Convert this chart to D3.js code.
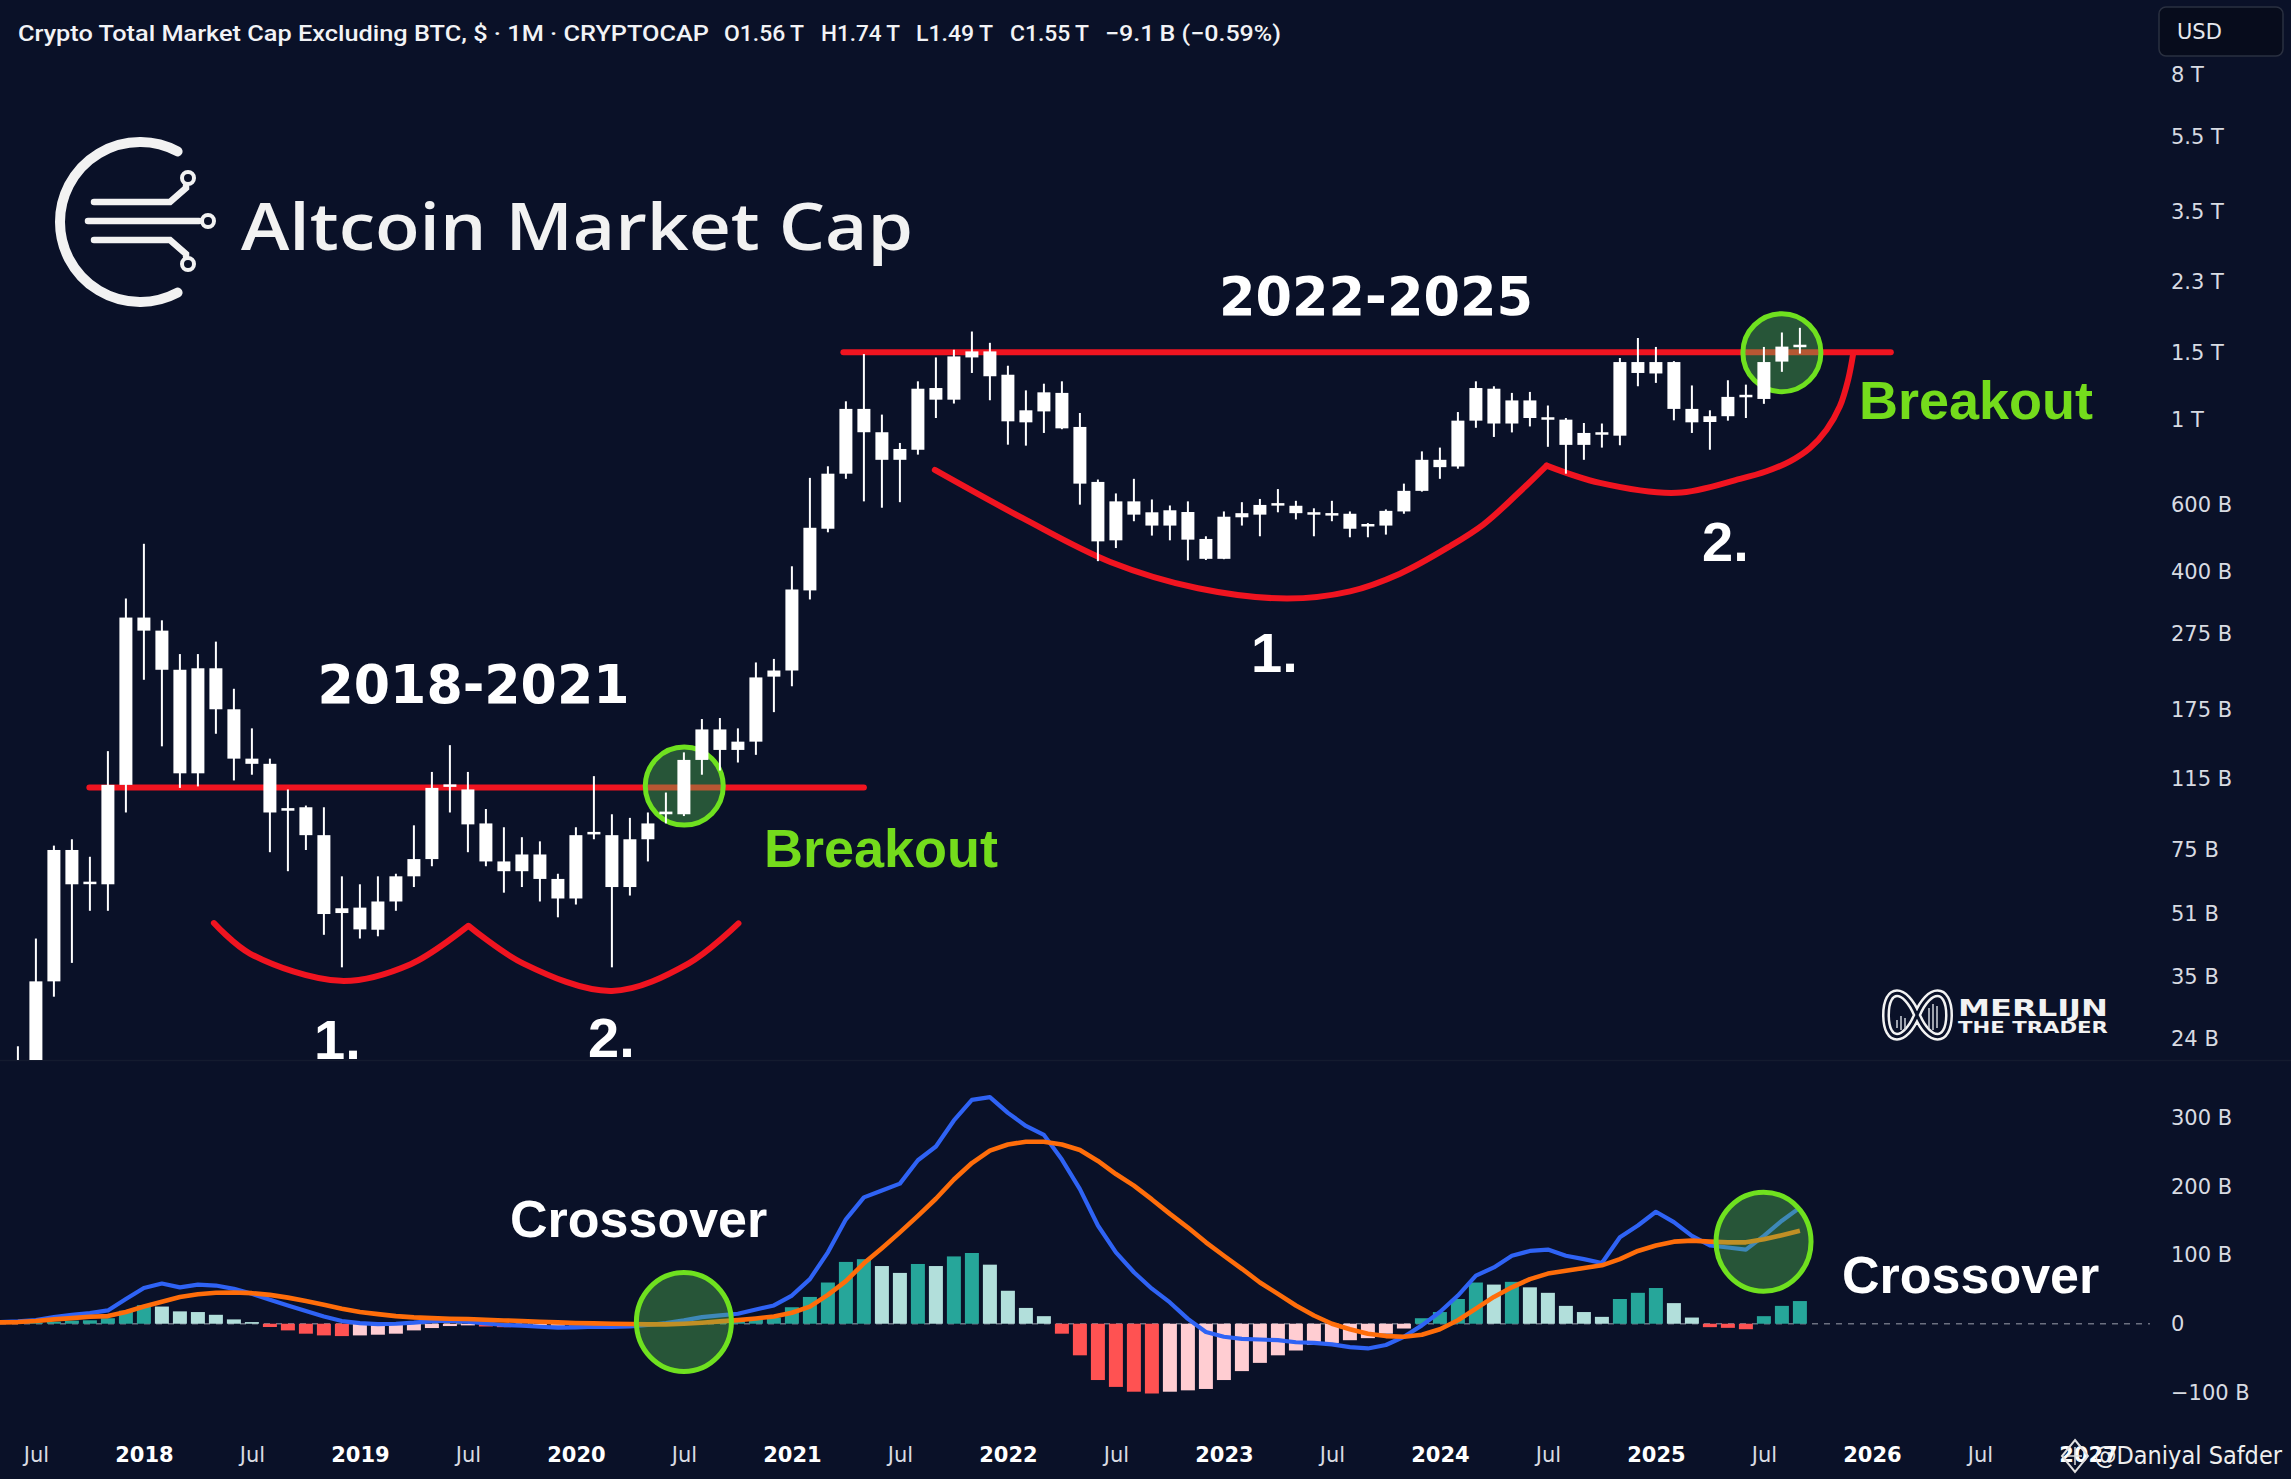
<!DOCTYPE html>
<html><head><meta charset="utf-8">
<script src="https://cdn.jsdelivr.net/npm/d3@7"></script>
<style>html,body{margin:0;padding:0;background:#0a1128;overflow:hidden}</style>
</head><body>
<svg id="chart" width="2291" height="1479"></svg>
<script>
// ---------------- DATA ----------------
const months = [
"2017-05","2017-06","2017-07","2017-08","2017-09","2017-10","2017-11","2017-12",
"2018-01","2018-02","2018-03","2018-04","2018-05","2018-06","2018-07","2018-08","2018-09","2018-10","2018-11","2018-12",
"2019-01","2019-02","2019-03","2019-04","2019-05","2019-06","2019-07","2019-08","2019-09","2019-10","2019-11","2019-12",
"2020-01","2020-02","2020-03","2020-04","2020-05","2020-06","2020-07","2020-08","2020-09","2020-10","2020-11","2020-12",
"2021-01","2021-02","2021-03","2021-04","2021-05","2021-06","2021-07","2021-08","2021-09","2021-10","2021-11","2021-12",
"2022-01","2022-02","2022-03","2022-04","2022-05","2022-06","2022-07","2022-08","2022-09","2022-10","2022-11","2022-12",
"2023-01","2023-02","2023-03","2023-04","2023-05","2023-06","2023-07","2023-08","2023-09","2023-10","2023-11","2023-12",
"2024-01","2024-02","2024-03","2024-04","2024-05","2024-06","2024-07","2024-08","2024-09","2024-10","2024-11","2024-12",
"2025-01","2025-02","2025-03","2025-04","2025-05","2025-06","2025-07","2025-08","2025-09"];

// monthly candles, billions USD
const open = [null,16,20,34,75,61,61,111,
304,281,222,119,224,175,130,126,95,97,82,51.3,
53,46.4,55,64,71,109,108,88,70,66,73,63,
56,83,82,60,80,93,93,129,155,137,144,213,
221,358,519,723,1068,928,786,835,1211,1129,1456,1510,
1312,985,1052,1176,958,688,484,612,573,529,574,488,
433,556,565,599,596,569,564,568,528,529,576,652,
786,755,995,1206,978,1124,1008,1001,860,921,909,1416,
1322,1416,1068,987,1022,1150,1134,1420,1560];
const high = [null,23,44,77,80,72,136,341,
474,299,244,244,263,198,156,130,108,98,97,64,
61,64,65,87,120,141,120,96,86,81,79,65,
86,117,93,91,94,106,135,165,166,156,232,237,
414,705,756,1118,1486,1032,870,1261,1456,1525,1702,1590,
1385,1194,1243,1261,1042,698,642,701,619,597,612,496,
576,609,621,659,614,587,614,576,537,583,681,827,
846,1048,1261,1224,1176,1183,1090,1011,981,978,1451,1637,
1551,1424,1230,1059,1269,1236,1551,1692,1740];
const low = [null,14,17,31,38,52,52,94,
209,140,109,110,151,114,118,74,66,75,45,37,
44,44.6,52,60,68,94,74,68,58,60,55,50,
54,80,37,57,70,88,92,118,121,127,133,172,
201,339,508,701,612,589,609,811,1011,1103,1326,1125,
861,856,924,945,600,427,462,543,498,484,429,430,
432,529,496,573,549,496,543,493,493,501,568,649,
701,745,953,902,927,961,850,723,786,846,858,1224,
1249,997,924,835,995,1011,1101,1335,1490];
const close = [null,20,34,75,61,61.5,111,304,
281,222,119,224,175,130,126,94,96.5,82,51,52.8,
46.5,55,64,71,109,110.5,87.5,70,66,73,63,56,
82,82,60,80,88,94.5,129,155,137,144,212,221,
360,522,723,1068,928,786,839,1206,1129,1465,1510,1300,
991,1059,1180,950,681,481,612,565,529,580,486,433,
558,570,599,601,570,565,566,519,530,578,652,786,
752,995,1211,978,1124,1011,1004,860,924,917,1416,1326,
1416,1068,985,1022,1148,1154,1416,1554,1550];

// MACD pane (billions)
const macdLine = [2.5,3.4,5.3,9.7,13,15.5,19.4,36,
52,58.5,53,57,55.6,50.8,43.5,34.8,26.6,18.4,10.6,3.9,
1,-0.5,0,1.5,3.9,4.4,2.9,0.5,-1.9,-2.9,-4.4,-5.8,
-5.3,-4.4,-4.8,-3.9,-1.9,1,4.8,9.7,12.1,14.5,20.8,26.6,
41,65,104,152,184,194,204,238,258,296,326,330,
307,288,275,239,196,143,104,75,51,31,7,-12,
-19,-22,-23,-24,-27,-28,-30,-34,-36,-31,-19,-2.4,
17,41,70,82,99,106,108,99,94,88.5,126,143,
163,148,128,114,111,108,128,150,169];
const signalLine = [2,2.4,3.9,6.3,8.2,10.2,11.1,17,
25,32,39,43,45,45.5,44.5,42,38,33,27.6,21.8,
17,14,11.1,9.2,8.2,7.3,6.8,5.8,4.8,3.9,2.9,1.9,
1,0.5,0,-0.5,-1,-1,0,1.5,3.4,5.3,7.7,10.6,
16,25,42,62,88,110,133,157,182,210,234,252,
261,265,265,261,253,237,218,201,181,160,140,118.5,
99,80,60,43.5,26.6,12,0,-8,-14.5,-18,-19,-16,
-8,5,22,39,53,65,73,77,81,85,94,106,
114,119.5,121,119.5,118.5,118.5,123,129,135.5];
const histogram = [0.5,1,1.5,3,4.5,5,8,19,
27,25,18,17,13,6.3,2.4,-4.8,-9.7,-14.5,-17,-18,
-17,-16,-14.5,-9.7,-6.3,-3.4,-2.4,-4,-5,-4.5,-3.5,-3,
-2.5,-2,-2,-1.5,-0.5,1,2,3,3.5,5,6,9,
24,39,60,90,94,84,74,87,84,98,103,86,
48,23,11,-14.5,-46,-82,-92,-99,-101.6,-99,-97,-95,
-82,-69,-57,-46,-39,-31,-28,-24,-21,-14.5,-7,8,
17,36,60,57,61,53,45,26,17,10,36,45,
52,30,9,-5,-6,-8,11,26,33];

// axis ticks
const priceTicks = [8000,5500,3500,2300,1500,1000,600,400,275,175,115,75,51,35,24];
const priceTickLabels = ["8 T","5.5 T","3.5 T","2.3 T","1.5 T","1 T","600 B","400 B","275 B","175 B","115 B","75 B","51 B","35 B","24 B"];
const macdTicks = [300,200,100,0,-100];
const macdTickLabels = ["300 B","200 B","100 B","0","\u2212100 B"];
const timeTicks = ["2017-07","2018-01","2018-07","2019-01","2019-07","2020-01","2020-07","2021-01","2021-07","2022-01","2022-07","2023-01","2023-07","2024-01","2024-07","2025-01","2025-07","2026-01","2026-07","2027-01"];
const timeTickLabels = ["Jul","2018","Jul","2019","Jul","2020","Jul","2021","Jul","2022","Jul","2023","Jul","2024","Jul","2025","Jul","2026","Jul","2027"];

// drawn annotations, in [month index from Jan 2018, value in B]
const resistance2018 = [[-3.03,109.3],[40.0,109.3]];
const resistance2022 = [[38.86,1502.7],[97.05,1502.7]];
const cupA1 = [[3.89,48.3],[5.89,40.2],[10.94,34.1],[14.82,37.7],[18.0,47.4]];
const cupA2 = [[18.04,47.5],[21.06,37.9],[26.0,32.1],[30.27,37.9],[33.03,48.2]];
const cupB1 = [[43.94,739.4],[48.82,553],[53.69,424.9],[58.56,362.7],[63.5,341],[67.01,356],[69.78,396],[72.56,467.2],[74.41,532.2],[76.27,637.6],[77.93,759.2]];
const cupB2 = [[77.93,759.2],[80.89,684],[85.17,644.3],[88.68,700.9],[90.15,733.7],[91.45,779],[92.56,844.3],[93.48,942.6],[94.22,1084.9],[94.68,1273.6],[94.95,1479.8]];
const priceCircles = [[30.02,110.2],[91.0,1498]];
const macdCircles = [[30.0,2.5],[89.98,119.4]];

// ---------------- DRAW ----------------
const W = 2291, H = 1479;
const BG = "#0a1128";
const svg = d3.select("#chart");
const mIdx = s => (+s.slice(0,4) - 2018) * 12 + (+s.slice(5,7) - 1);

const x = d3.scaleLinear().domain([0, 96]).range([143.9, 1871.9]);
const y = d3.scaleLog().domain([24, 8000]).range([1039.2, 74.5]);
const yM = d3.scaleLinear().domain([-100, 300]).range([1392.4, 1117.7]);

svg.append("rect").attr("width", W).attr("height", H).attr("fill", BG);

const defs = svg.append("defs");
defs.append("clipPath").attr("id","mainClip").append("rect").attr("x",0).attr("y",0).attr("width",2150).attr("height",1060);
defs.append("clipPath").attr("id","macdClip").append("rect").attr("x",0).attr("y",1061).attr("width",2150).attr("height",370);

// pane separator
svg.append("line").attr("x1",0).attr("x2",W).attr("y1",1060.5).attr("y2",1060.5).attr("stroke","#141b2f").attr("stroke-width",1.5);

const main = svg.append("g").attr("clip-path","url(#mainClip)");

// ---- logo "Altcoin Market Cap"
const logo = main.append("g").attr("fill","none").attr("stroke","#f2f2f2").attr("stroke-linecap","round");
{
  const cx = 140, cy = 222, r = 80, a = 62 * Math.PI / 180;
  logo.append("path").attr("stroke-width",10)
    .attr("d",`M${cx + r*Math.cos(a)},${cy - r*Math.sin(a)} A${r},${r} 0 1,0 ${cx + r*Math.cos(a)},${cy + r*Math.sin(a)}`);
  logo.append("path").attr("stroke-width",6.5).attr("d","M94,202 L170,202 L186,188 L186,186");
  logo.append("path").attr("stroke-width",6.5).attr("d","M88,221 L199,221");
  logo.append("path").attr("stroke-width",6.5).attr("d","M94,240 L170,240 L186,254 L186,256");
  logo.append("circle").attr("cx",188).attr("cy",178).attr("r",6).attr("stroke-width",4);
  logo.append("circle").attr("cx",208).attr("cy",221).attr("r",6).attr("stroke-width",4);
  logo.append("circle").attr("cx",188).attr("cy",264).attr("r",6).attr("stroke-width",4);
  main.append("text").attr("x",241).attr("y",250).attr("fill","#f2f2f2")
    .attr("font-family","'Open Sans', 'Noto Sans', sans-serif").attr("font-weight",600).attr("font-size",66)
    .attr("textLength",672).attr("lengthAdjust","spacingAndGlyphs").text("Altcoin Market Cap");
}

// ---- red drawings
const RED = "#f01420";
const lineLin = d3.line().x(d => x(d[0])).y(d => y(d[1]));
const lineCurve = d3.line().x(d => x(d[0])).y(d => y(d[1])).curve(d3.curveCatmullRom.alpha(0.5));
const redG = main.append("g").attr("fill","none").attr("stroke",RED).attr("stroke-width",6).attr("stroke-linecap","round").attr("stroke-linejoin","round");
[resistance2018, resistance2022].forEach(l => redG.append("path").attr("d", lineLin(l)));
[cupA1, cupA2, cupB1, cupB2].forEach(c => redG.append("path").attr("d", lineCurve(c)));

// ---- green circles (price)
const GREEN = "#6fe11f";
main.selectAll("circle.pc").data(priceCircles).join("circle").attr("class","pc")
  .attr("cx", d => x(d[0])).attr("cy", d => y(d[1])).attr("r", 39)
  .attr("fill","rgba(88,198,82,0.375)").attr("stroke",GREEN).attr("stroke-width",5);

// ---- candles
const candles = months.map((mo,i) => ({m: mIdx(mo), o: open[i], h: high[i], l: low[i], c: close[i]})).filter(d => d.o != null);
const cg = main.append("g");
cg.selectAll("line.wick").data(candles).join("line").attr("class","wick")
  .attr("x1", d => x(d.m)).attr("x2", d => x(d.m))
  .attr("y1", d => y(d.h)).attr("y2", d => y(d.l))
  .attr("stroke","#ffffff").attr("stroke-width",2);
cg.selectAll("rect.body").data(candles).join("rect").attr("class","body")
  .attr("x", d => x(d.m) - 6.5).attr("width", 13)
  .attr("y", d => Math.min(y(d.o), y(d.c)) - (Math.abs(y(d.o)-y(d.c)) < 2.5 ? 1.25 : 0))
  .attr("height", d => Math.max(2.5, Math.abs(y(d.o) - y(d.c))))
  .attr("fill","#ffffff");

// ---- annotation texts (price pane)
function label(g, txt, xx, yy, opts) {
  const t = g.append("text").attr("x",xx).attr("y",yy).text(txt)
    .attr("fill", opts.fill || "#ffffff")
    .attr("font-family", opts.family || "'Liberation Sans', Arial, sans-serif")
    .attr("font-weight", opts.weight || 700)
    .attr("font-size", opts.size || 54)
    .attr("text-anchor", opts.anchor || "start");
  if (opts.len) t.attr("textLength", opts.len).attr("lengthAdjust","spacingAndGlyphs");
  return t;
}
const BRK = "#74dc1c";
label(main, "2018-2021", 473.5, 702.5, {family:"'DejaVu Sans', sans-serif", size:54, anchor:"middle", len:312});
label(main, "2022-2025", 1376, 315, {family:"'DejaVu Sans', sans-serif", size:54, anchor:"middle", len:314});
label(main, "1.", 314, 1059, {size:56});
label(main, "2.", 588, 1057, {size:56});
label(main, "1.", 1251, 672, {size:56});
label(main, "2.", 1702, 560.7, {size:56});
label(main, "Breakout", 764, 866.7, {size:54, fill:BRK});
label(main, "Breakout", 1859, 419, {size:54, fill:BRK});

// ---- Merlijn logo
{
  const g = main.append("g");
  const inf = "M1917,1015 C1905,986 1886,986 1886,1015 C1886,1044 1905,1044 1917,1015 C1929,986 1949,986 1949,1015 C1949,1044 1929,1044 1917,1015 Z";
  g.append("path").attr("d",inf).attr("fill","none").attr("stroke","#f2f2f2").attr("stroke-width",8);
  g.append("path").attr("d",inf).attr("fill","none").attr("stroke",BG).attr("stroke-width",3);
  [[1897,1020,1028],[1901,1016,1030],[1905,1018,1030],[1929,1008,1028],[1933,1004,1030],[1937,1006,1028]].forEach(b =>
    g.append("line").attr("x1",b[0]).attr("x2",b[0]).attr("y1",b[1]).attr("y2",b[2]).attr("stroke","#cfd3da").attr("stroke-width",1.5));
  g.append("text").attr("x",1958).attr("y",1016).attr("fill","#f2f2f2").attr("font-family","'DejaVu Sans', sans-serif")
    .attr("font-weight",700).attr("font-size",23).attr("textLength",150).attr("lengthAdjust","spacingAndGlyphs").text("MERLIJN");
  g.append("text").attr("x",1958).attr("y",1033).attr("fill","#f2f2f2").attr("font-family","'DejaVu Sans', sans-serif")
    .attr("font-weight",700).attr("font-size",15).attr("textLength",150).attr("lengthAdjust","spacingAndGlyphs").text("THE TRADER");
}

// ---- price axis (right)
const AXC = "#d8dbe2";
const yAxis = d3.axisRight(y).tickValues(priceTicks).tickSize(0).tickPadding(9)
  .tickFormat((d,i) => priceTickLabels[i]);
const ya = svg.append("g").attr("transform","translate(2162,0)").call(yAxis);
ya.select(".domain").remove();
ya.selectAll("text").attr("fill",AXC).attr("font-family","'DejaVu Sans', sans-serif").attr("font-size",21);

// ---- MACD pane
const mg = svg.append("g").attr("clip-path","url(#macdClip)");
mg.append("line").attr("x1",0).attr("x2",2150).attr("y1",yM(0)).attr("y2",yM(0))
  .attr("stroke","#6b7080").attr("stroke-width",1.5).attr("stroke-dasharray","6,6");
const macdData = months.map((mo,i) => ({m: mIdx(mo), macd: macdLine[i], sig: signalLine[i], h: histogram[i], prev: i > 0 ? histogram[i-1] : 0}));
const histColor = d => d.h >= 0 ? (d.h >= d.prev ? "#26a69a" : "#b2dfdb") : (d.h < d.prev ? "#ff5252" : "#ffcdd2");
mg.selectAll("rect.hist").data(macdData).join("rect").attr("class","hist")
  .attr("x", d => x(d.m) - 7).attr("width", 14)
  .attr("y", d => Math.min(yM(0), yM(d.h))).attr("height", d => Math.abs(yM(d.h) - yM(0)))
  .attr("fill", histColor);
const macdPath = d3.line().x(d => x(d.m)).y(d => yM(d.macd));
const sigPath = d3.line().x(d => x(d.m)).y(d => yM(d.sig));
mg.append("path").datum(macdData).attr("d", macdPath).attr("fill","none").attr("stroke","#2f63f5").attr("stroke-width",4.2).attr("stroke-linejoin","round");
mg.append("path").datum(macdData).attr("d", sigPath).attr("fill","none").attr("stroke","#ff6d0a").attr("stroke-width",4.6).attr("stroke-linejoin","round");
mg.selectAll("ellipse.mc").data(macdCircles).join("ellipse").attr("class","mc")
  .attr("cx", d => x(d[0])).attr("cy", d => yM(d[1])).attr("rx", 47.5).attr("ry", 49.5)
  .attr("fill","rgba(88,198,82,0.375)").attr("stroke",GREEN).attr("stroke-width",5);
label(svg, "Crossover", 510, 1237.3, {size:52});
label(svg, "Crossover", 1842, 1293.3, {size:52});

const mAxis = d3.axisRight(yM).tickValues(macdTicks).tickSize(0).tickPadding(9)
  .tickFormat((d,i) => macdTickLabels[i]);
const ma = svg.append("g").attr("transform","translate(2162,0)").call(mAxis);
ma.select(".domain").remove();
ma.selectAll("text").attr("fill",AXC).attr("font-family","'DejaVu Sans', sans-serif").attr("font-size",21);

// ---- time axis
const xAxis = d3.axisBottom(x).tickValues(timeTicks.map(mIdx)).tickSize(0).tickPadding(0)
  .tickFormat((d,i) => timeTickLabels[i]);
const xa = svg.append("g").attr("transform","translate(0,1447)").call(xAxis);
xa.select(".domain").remove();
xa.selectAll("text")
  .attr("font-family","'DejaVu Sans', sans-serif")
  .attr("font-size",21)
  .attr("dy","0.71em")
  .attr("fill",(d,i) => timeTickLabels[i] === "Jul" ? AXC : "#ffffff")
  .attr("font-weight",(d,i) => timeTickLabels[i] === "Jul" ? 400 : 700);

// ---- title / legend
const TF = "'Roboto', 'Liberation Sans', sans-serif";
const titleParts = [
  ["Crypto Total Market Cap Excluding BTC, $ \u00b7 1M \u00b7 CRYPTOCAP", 18, 691],
  ["O1.56\u2009T", 724, 80], ["H1.74\u2009T", 821, 79], ["L1.49\u2009T", 916, 77], ["C1.55\u2009T", 1010, 79],
  ["\u22129.1\u2009B (\u22120.59%)", 1105, 176]
];
titleParts.forEach(p => svg.append("text").attr("x",p[1]).attr("y",41).attr("fill","#f2f3f6")
  .attr("font-family",TF).attr("font-weight",500).attr("font-size",22)
  .attr("textLength",p[2]).attr("lengthAdjust","spacingAndGlyphs").text(p[0]));

// USD box
svg.append("rect").attr("x",2159).attr("y",7).attr("width",124).attr("height",49).attr("rx",7)
  .attr("fill","#070c1c").attr("stroke","#2a3040").attr("stroke-width",1.5);
svg.append("text").attr("x",2177).attr("y",39).attr("fill","#e6e8ee").attr("font-family","'DejaVu Sans', sans-serif")
  .attr("font-size",21).text("USD");

// watermark
{
  const g = svg.append("g");
  g.append("path").attr("d","M2075,1440 L2088,1456 L2075,1472 L2062,1456 Z").attr("fill","none").attr("stroke","#e0e0e0").attr("stroke-width",2);
  g.append("path").attr("d","M2068,1456 L2082,1456 M2075,1447 L2075,1465").attr("stroke","#e0e0e0").attr("stroke-width",1.5);
  g.append("text").attr("x",2094).attr("y",1464).attr("fill","#eeeeee").attr("font-family","'DejaVu Sans', sans-serif")
    .attr("font-size",25).attr("textLength",188).attr("lengthAdjust","spacingAndGlyphs").text("@Daniyal Safder");
}
</script>
</body></html>
